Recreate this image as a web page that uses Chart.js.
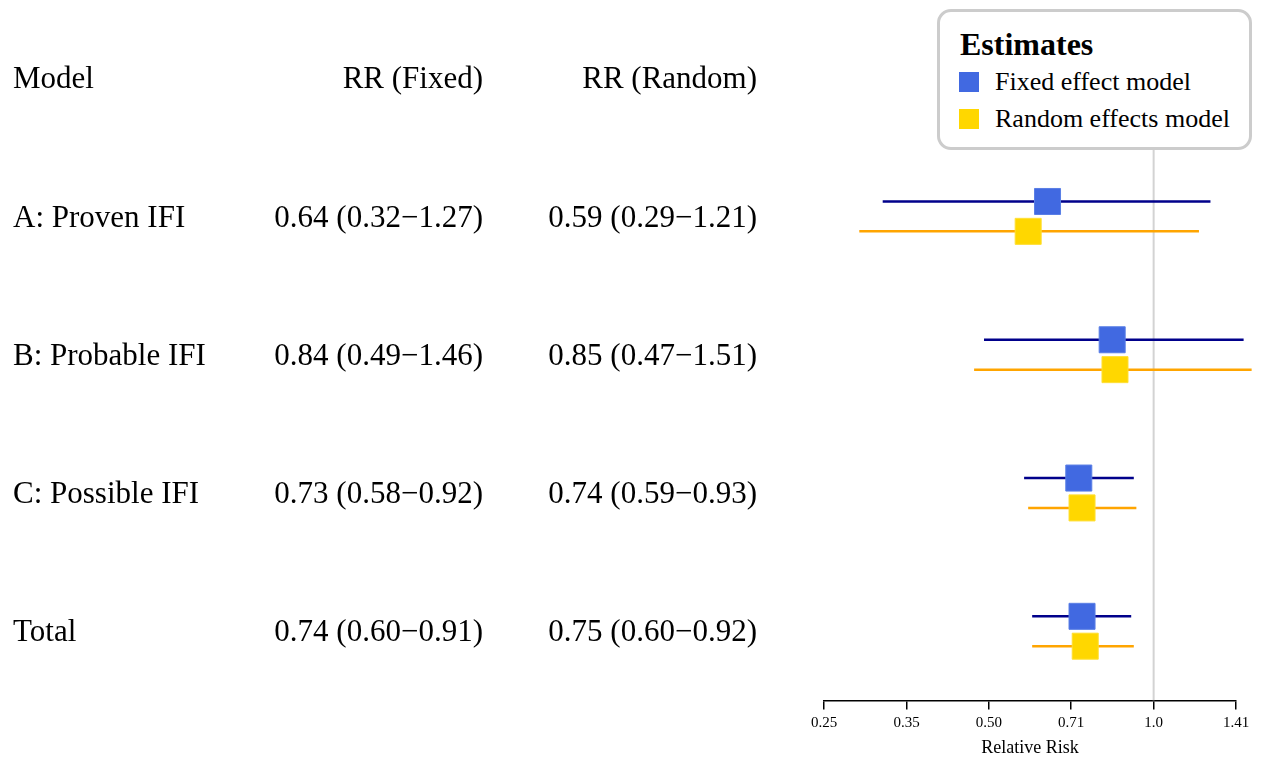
<!DOCTYPE html>
<html>
<head>
<meta charset="utf-8">
<script src="https://cdn.jsdelivr.net/npm/chart.js@4.4.1/dist/chart.umd.min.js"></script>
<style>
  body { margin: 0; background: #fff; }
  #wrap { position: relative; width: 1262px; height: 759px; }
  #legend {
    position: absolute; left: 937px; top: 9px; width: 309px; height: 135px;
    border: 3px solid #cccccc; border-radius: 14px; background: #fff;
    font-family: "Liberation Serif", serif; color: #000;
  }
  #legend .title { position: absolute; left: 20px; top: 12px; font-size: 32px; font-weight: bold; line-height: 40px; }
  #legend .item { position: absolute; left: 55px; font-size: 26px; line-height: 30px; }
  #legend .box { position: absolute; left: 19px; width: 20px; height: 20px; }
</style>
</head>
<body>
<div id="wrap">
  <canvas id="myChart" width="1262" height="759"></canvas>
  <div id="legend">
    <div class="title">Estimates</div>
    <div class="box" style="top:60px;background:#4169E1"></div>
    <div class="item" style="top:55px">Fixed effect model</div>
    <div class="box" style="top:97px;background:#FFD700"></div>
    <div class="item" style="top:92px">Random effects model</div>
  </div>
</div>
<script>
// data
var models = ['A: Proven IFI', 'B: Probable IFI', 'C: Possible IFI', 'Total'];
var fixedRR = [0.64, 0.84, 0.73, 0.74];
var fixedLo = [0.32, 0.49, 0.58, 0.60];
var fixedHi = [1.27, 1.46, 0.92, 0.91];
var randomRR = [0.59, 0.85, 0.74, 0.75];
var randomLo = [0.29, 0.47, 0.59, 0.60];
var randomHi = [1.21, 1.51, 0.93, 0.92];
var tickVals = [0.25, 0.354, 0.5, 0.707, 1, 1.414];
var tickLabels = ['0.25', '0.35', '0.50', '0.71', '1.0', '1.41'];

const OFFSET = 0.108; // vertical split between fixed and random rows
const FONT = '"Liberation Serif", serif';

function fmt(rr, lo, hi) {
    return rr.toFixed(2) + ' (' + lo.toFixed(2) + '\u2212' + hi.toFixed(2) + ')';
}

function points(vals, off) {
    return vals.map((v, i) => ({x: v, y: i + off}));
}

function ciLine(lo, hi, off) {
    var pts = [];
    lo.forEach((l, i) => {
        pts.push({x: l, y: i + off});
        pts.push({x: hi[i], y: i + off});
        pts.push({x: hi[i], y: null}); // gap
    });
    return pts;
}

// text columns drawn beside the plot, placed on the y scale rows
const tablePlugin = {
    id: 'table',
    afterDraw(chart) {
        var ctx = chart.ctx;
        var y = chart.scales.y;
        ctx.save();
        ctx.fillStyle = '#000';
        ctx.font = '31px ' + FONT;
        ctx.textBaseline = 'middle';
        var rows = [['Model', 'RR (Fixed)', 'RR (Random)']];
        models.forEach((m, i) => {
            rows.push([m, fmt(fixedRR[i], fixedLo[i], fixedHi[i]), fmt(randomRR[i], randomLo[i], randomHi[i])]);
        });
        rows.forEach((r, i) => {
            var py = y.getPixelForValue(i - 1) + 2;
            ctx.textAlign = 'left';
            ctx.fillText(r[0], 13, py);
            ctx.textAlign = 'right';
            ctx.fillText(r[1], 483, py);
            ctx.fillText(r[2], 757, py);
        });
        ctx.restore();
    }
};

var ctx = document.getElementById('myChart').getContext('2d');
var chart = new Chart(ctx, {
    type: 'scatter',
    data: {
        datasets: [
            {
                label: 'Fixed effect model',
                data: points(fixedRR, -OFFSET),
                pointStyle: 'rect', pointRadius: 18.4,
                backgroundColor: '#4169E1', borderColor: '#5a7fe6', borderWidth: 1,
                order: 0, clip: false
            },
            {
                label: 'Random effects model',
                data: points(randomRR, OFFSET),
                pointStyle: 'rect', pointRadius: 18.4,
                backgroundColor: '#FFD700', borderColor: '#ffdf33', borderWidth: 1,
                order: 1, clip: false
            },
            {
                data: ciLine(fixedLo, fixedHi, -OFFSET),
                showLine: true, pointRadius: 0, borderColor: '#00008B', borderWidth: 2.5,
                spanGaps: false, order: 2, clip: false
            },
            {
                data: ciLine(randomLo, randomHi, OFFSET),
                showLine: true, pointRadius: 0, borderColor: '#FFA500', borderWidth: 2.5,
                spanGaps: false, order: 3, clip: false
            },
            {
                data: [{x: 1, y: -1.5}, {x: 1, y: 3.5}],
                showLine: true, pointRadius: 0, borderColor: '#d3d3d3', borderWidth: 2,
                order: 4
            }
        ]
    },
    options: {
        responsive: false,
        animation: false,
        layout: { autoPadding: false, padding: { left: 824, right: 26, top: 9, bottom: 0 } },
        plugins: { legend: { display: false }, tooltip: { enabled: false } },
        scales: {
            x: {
                type: 'logarithmic',
                min: 0.25, max: 1.414,
                afterBuildTicks: (scale) => { scale.ticks = tickVals.map(v => ({value: v})); },
                ticks: {
                    autoSkip: false, maxRotation: 0, padding: 5, color: '#000',
                    font: { family: FONT, size: 15 },
                    callback: (v, i) => tickLabels[i]
                },
                grid: { drawOnChartArea: false, drawTicks: true, tickLength: 9, color: '#000', lineWidth: 1.5 },
                border: { display: true, color: '#000', width: 1.5 },
                title: { display: true, text: 'Relative Risk', color: '#000', font: { family: FONT, size: 18 }, padding: { top: 0, bottom: 0 } }
            },
            y: {
                type: 'linear', reverse: true, min: -1.5, max: 3.5, display: false
            }
        }
    },
    plugins: [tablePlugin]
});
</script>
</body>
</html>
